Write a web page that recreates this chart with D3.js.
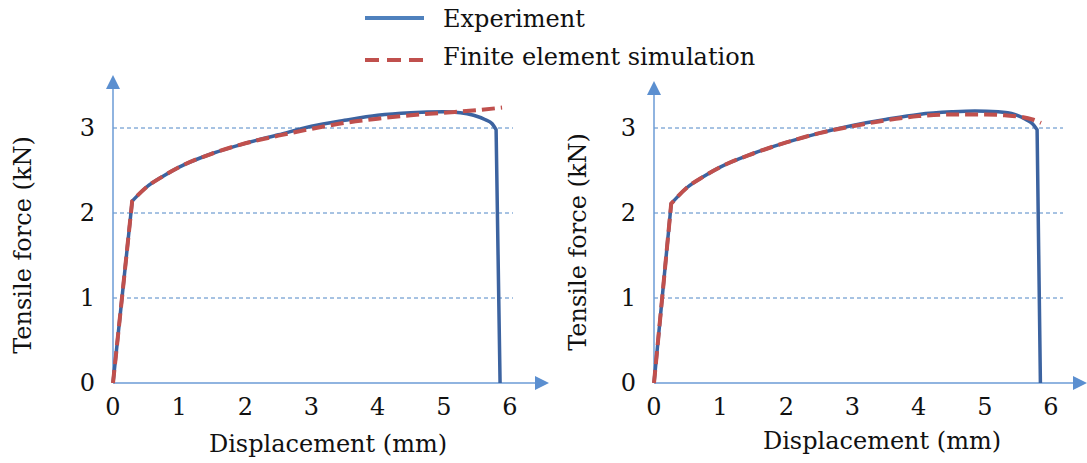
<!DOCTYPE html>
<meta charset="utf-8">
<script src="https://d3js.org/d3.v7.min.js"></script>
<style>
  body { margin: 0; background: #fff; }
  svg text { font-family: "DejaVu Serif", serif; fill: #111; }
</style>
<body>
<div id="chart"></div>
<script>
// tick labels
var xTicks = [0, 1, 2, 3, 4, 5, 6];
var yTicks = [0, 1, 2, 3];
var gridTicks = [1, 2, 3];

// left panel, [displacement mm, force kN]
var expLeft = [[0,0],[0.29,2.14],[0.5,2.3],[0.75,2.43],[1,2.54],[1.5,2.70],[2,2.82],[2.5,2.92],[3,3.02],
  [3.5,3.09],[4,3.15],[4.5,3.18],[5,3.19],[5.25,3.18],[5.45,3.15],[5.62,3.1],[5.73,3.05],[5.79,2.98],[5.85,0]];
var simLeft = [[0,0],[0.29,2.14],[0.5,2.3],[0.75,2.43],[1,2.54],[1.5,2.70],[2,2.82],[2.5,2.91],[3,2.99],
  [3.5,3.06],[4,3.11],[4.5,3.15],[5,3.18],[5.5,3.21],[5.88,3.24]];

// right panel
var expRight = [[0,0],[0.26,2.11],[0.5,2.3],[0.75,2.43],[1,2.54],[1.5,2.70],[2,2.83],[2.5,2.94],[3,3.03],
  [3.5,3.10],[4,3.16],[4.5,3.19],[4.85,3.20],[5.2,3.19],[5.45,3.16],[5.62,3.1],[5.72,3.05],[5.79,2.98],[5.84,0]];
var simRight = [[0,0],[0.26,2.11],[0.5,2.3],[0.75,2.43],[1,2.54],[1.5,2.70],[2,2.83],[2.5,2.94],[3,3.02],
  [3.5,3.09],[4,3.14],[4.5,3.16],[5,3.16],[5.3,3.15],[5.55,3.13],[5.72,3.10],[5.85,3.06]];

var seriesNames = ["Experiment", "Finite element simulation"];
var xTitle = "Displacement (mm)";
var yTitle = "Tensile force (kN)";

var expColor = "#3c63a0", simColor = "#c0504d", axisColor = "#6b9bd6", gridColor = "#4f86c6";

var svg = d3.select("#chart").append("svg")
    .attr("width", 1087)
    .attr("height", 463);

// legend
var legend = svg.append("g");
legend.append("line").attr("x1", 365).attr("x2", 424).attr("y1", 18).attr("y2", 18)
  .attr("stroke", "#4f81bd").attr("stroke-width", 4);
legend.append("line").attr("x1", 365).attr("x2", 424).attr("y1", 60).attr("y2", 60)
  .attr("stroke", simColor).attr("stroke-width", 4).attr("stroke-dasharray", "14,8");
legend.append("text").attr("x", 443).attr("y", 27).style("font-size", "24px").text(seriesNames[0]);
legend.append("text").attr("x", 443).attr("y", 65).style("font-size", "24px").text(seriesNames[1]);

function panel(opt) {
  var x = d3.scaleLinear().domain([0, 6]).range([opt.left, opt.left + 397]);
  var y = d3.scaleLinear().domain([0, 3]).range([383, 128]);
  var g = svg.append("g");

  // dashed grid
  g.selectAll(".grid").data(gridTicks).enter().append("line")
    .attr("x1", x(0)).attr("x2", opt.gridEnd)
    .attr("y1", function(d) { return y(d); }).attr("y2", function(d) { return y(d); })
    .attr("stroke", gridColor).attr("stroke-width", 1).attr("stroke-dasharray", "4,3");

  // axes with arrow heads
  g.append("line").attr("x1", x(0)).attr("x2", opt.xArrow - 12).attr("y1", y(0)).attr("y2", y(0))
    .attr("stroke", axisColor).attr("stroke-width", 1.5);
  g.append("path").attr("fill", "#5b8fd0")
    .attr("d", "M" + opt.xArrow + "," + y(0) + "l-14,-7v14z");
  g.append("line").attr("x1", x(0)).attr("x2", x(0)).attr("y1", y(0)).attr("y2", opt.yArrow + 12)
    .attr("stroke", axisColor).attr("stroke-width", 1.5);
  g.append("path").attr("fill", "#5b8fd0")
    .attr("d", "M" + x(0) + "," + opt.yArrow + "l-7,14h14z");

  // tick labels
  g.selectAll(".xt").data(xTicks).enter().append("text")
    .attr("x", function(d) { return x(d); }).attr("y", 415)
    .attr("text-anchor", "middle").style("font-size", "24px")
    .text(function(d) { return d; });
  g.selectAll(".yt").data(yTicks).enter().append("text")
    .attr("x", x(0) - 18).attr("y", function(d) { return y(d) + 8; })
    .attr("text-anchor", "end").style("font-size", "24px")
    .text(function(d) { return d; });

  // titles
  g.append("text").attr("x", opt.xTitleX).attr("y", opt.xTitleY)
    .attr("text-anchor", "middle").style("font-size", "24px").text(xTitle);
  g.append("text").attr("transform", "translate(" + opt.yTitleX + "," + opt.yTitleY + ") rotate(-90)")
    .attr("text-anchor", "middle").attr("dy", "0.35em").style("font-size", "24px").text(yTitle);

  var lin = d3.line()
    .x(function(d) { return x(d[0]); })
    .y(function(d) { return y(d[1]); });
  var smooth = d3.line()
    .x(function(d) { return x(d[0]); })
    .y(function(d) { return y(d[1]); })
    .curve(d3.curveMonotoneX);

  // straight elastic rise, smooth plastic part, straight fracture drop
  function pathOf(data) {
    var end = data[data.length - 1][1] === 0 ? data.length - 1 : data.length;
    var d = lin(data.slice(0, 2)) + smooth(data.slice(1, end)).replace(/^M/, "L");
    if (end < data.length) d += lin(data.slice(end - 1)).replace(/^M/, "L");
    return d;
  }

  g.append("path").attr("d", pathOf(opt.exp))
    .attr("fill", "none").attr("stroke", expColor).attr("stroke-width", 3.5)
    .attr("stroke-linejoin", "round");
  g.append("path").attr("d", pathOf(opt.sim))
    .attr("fill", "none").attr("stroke", simColor).attr("stroke-width", 4)
    .attr("stroke-dasharray", "13,6");
}

panel({ left: 113, exp: expLeft, sim: simLeft, gridEnd: 513, xArrow: 549, yArrow: 75,
        xTitleX: 328, xTitleY: 452, yTitleX: 23, yTitleY: 245 });
panel({ left: 654, exp: expRight, sim: simRight, gridEnd: 1063, xArrow: 1087, yArrow: 81,
        xTitleX: 882, xTitleY: 449, yTitleX: 578, yTitleY: 242 });
</script>
</body>
